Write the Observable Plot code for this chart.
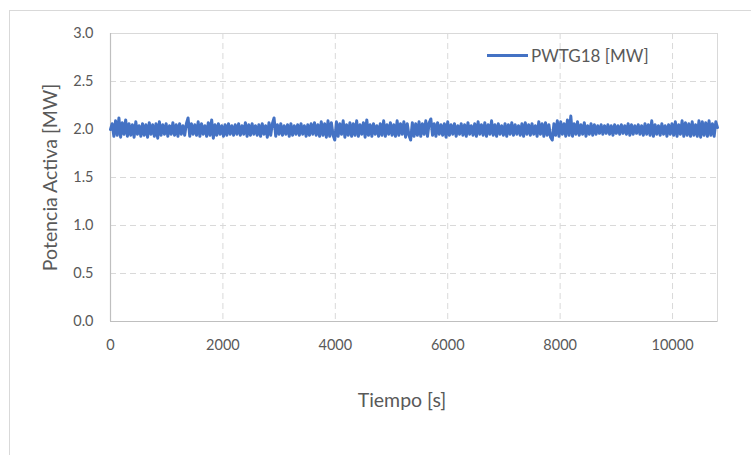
<!DOCTYPE html>
<html>
<head>
<meta charset="utf-8">
<script src="https://cdn.jsdelivr.net/npm/d3@7"></script>
<script src="https://cdn.jsdelivr.net/npm/@observablehq/plot@0.6"></script>
<style>
  html, body { margin: 0; padding: 0; background: #ffffff; }
  #wrap { position: relative; width: 751px; height: 455px; overflow: hidden; font-family: Lato, "Liberation Sans", sans-serif; }
  #border { position: absolute; left: 9px; top: 10px; width: 760px; height: 470px; border: 1px solid #d9d9d9; box-sizing: border-box; }
  #legend { position: absolute; left: 487px; top: 45px; display: flex; align-items: center; color: #595959; font-size: 17px; }
  #legend .swatch { width: 41px; height: 3px; background: #4472C4; margin-right: 3px; }
  #chart { position: absolute; left: 0; top: 0; }
</style>
</head>
<body>
<div id="wrap">
  <div id="border"></div>
  <div id="chart"></div>
  <div id="legend"><span class="swatch"></span><span id="legendLabel"></span></div>
</div>
<script>
// ---- data ----
const seriesName = "PWTG18 [MW]";
const xTitle = "Tiempo [s]";
const yTitle = "Potencia Activa [MW]";
const xTicks = [0, 2000, 4000, 6000, 8000, 10000];
const yTicks = [0, 0.5, 1.0, 1.5, 2.0, 2.5, 3.0];
const xMax = 10800;
const sampleStep = 30; // seconds between samples
const power = [
  2.00,2.06,1.93,2.09,1.94,2.12,1.92,2.07,1.95,2.10,1.93,2.06,1.94,2.05,1.92,2.08,1.95,2.04,1.93,2.06,1.94,2.05,1.92,2.07,
  1.95,2.05,1.93,2.06,1.91,2.08,1.94,2.05,1.95,2.06,1.93,2.04,1.95,2.07,1.94,2.05,1.93,2.06,1.95,2.04,1.94,2.06,2.12,1.93,
  2.06,1.95,2.05,1.94,2.08,1.93,2.06,1.95,2.04,1.93,2.07,1.94,2.10,1.91,2.05,1.94,2.06,1.95,2.04,1.93,2.05,1.94,2.06,1.95,
  2.04,1.94,2.05,1.95,2.06,1.94,2.04,1.95,2.07,1.93,2.05,1.94,2.06,1.95,2.04,1.94,2.05,1.93,2.06,1.95,2.04,1.92,2.07,1.94,
  2.06,2.12,1.93,2.05,1.95,2.06,1.94,2.04,1.95,2.05,1.93,2.06,1.94,2.04,1.95,2.05,1.94,2.06,1.95,2.04,1.93,2.05,1.94,2.06,
  1.95,2.07,1.94,2.05,1.93,2.08,1.94,2.06,1.92,2.09,1.93,2.07,1.94,1.89,2.08,1.93,2.06,1.95,2.09,1.92,2.05,1.94,2.07,1.93,
  2.06,1.94,2.09,1.93,2.05,1.95,2.07,1.92,2.10,1.94,2.05,1.93,2.06,1.95,2.04,1.93,2.06,1.94,2.09,1.93,2.05,1.95,2.07,1.94,
  2.05,1.93,2.09,1.94,2.06,1.95,2.08,1.92,2.06,1.94,1.89,2.07,1.93,2.06,1.94,2.08,1.93,2.06,1.95,2.09,1.93,2.07,2.11,1.94,
  2.06,1.93,2.07,1.95,2.05,1.94,2.06,1.92,2.08,1.94,2.05,1.95,2.06,1.93,2.04,1.95,2.06,1.94,2.05,1.93,2.07,1.95,2.04,1.94,
  2.06,1.93,2.08,1.95,2.05,1.94,2.07,1.93,2.05,1.95,2.09,1.94,2.05,1.93,2.06,1.95,2.04,1.94,2.06,1.93,2.05,1.95,2.07,1.94,
  2.05,1.95,2.04,1.94,2.06,1.93,2.07,1.95,2.05,1.94,2.06,1.95,2.04,1.93,2.08,1.95,2.06,1.93,2.07,1.94,2.05,1.92,1.89,2.06,
  1.94,2.09,1.93,2.08,1.95,2.06,1.93,2.10,1.94,2.14,1.93,2.06,1.95,2.08,1.94,2.05,1.95,2.07,1.93,2.04,1.95,2.06,1.94,2.05,
  1.95,2.04,1.96,2.05,1.95,2.04,1.96,2.05,1.95,2.04,1.94,2.05,1.96,2.04,1.95,2.05,1.96,2.04,1.95,2.06,1.94,2.05,1.95,2.04,
  1.96,2.05,1.95,2.04,1.94,2.06,1.95,2.05,1.94,2.09,1.93,2.05,1.95,2.04,1.94,2.06,1.95,2.04,1.93,2.05,1.95,2.06,1.94,2.08,
  1.93,2.05,1.95,2.09,1.93,2.07,1.94,2.06,1.93,2.08,1.94,2.05,1.93,2.09,1.92,2.08,1.94,2.07,1.93,2.09,1.94,2.06,1.93,2.08,
  2.02
];

// ---- build ----
const data = power.map((v, i) => ({t: i * sampleStep, v}));
document.getElementById("legendLabel").textContent = seriesName;

const gridStyle = {stroke: "#d9d9d9", strokeOpacity: 1, strokeWidth: 1, strokeDasharray: "6,4"};

const chart = Plot.plot({
  width: 751,
  height: 455,
  marginLeft: 110,
  marginRight: 34,
  marginTop: 33,
  marginBottom: 134,
  style: {fontFamily: "Lato, 'Liberation Sans', sans-serif", fontSize: "14px", color: "#595959", background: "transparent"},
  x: {domain: [0, xMax]},
  y: {domain: [0, 3]},
  marks: [
    Plot.gridX(xTicks.filter(d => d > 0), gridStyle),
    Plot.gridY(yTicks.filter(d => d > 0 && d < 3), gridStyle),
    Plot.frame({stroke: "#d9d9d9"}),
    Plot.ruleX([0], {stroke: "#bfbfbf", strokeWidth: 1.2}),
    Plot.ruleY([0], {stroke: "#bfbfbf", strokeWidth: 1.2}),
    Plot.axisX({ticks: xTicks, tickSize: 0, tickPadding: 18, tickFormat: d => String(d), label: null, fontSize: 14.5, fill: "#595959"}),
    Plot.axisY({ticks: yTicks, tickSize: 0, tickPadding: 17, tickFormat: d => d.toFixed(1), label: null, fontSize: 14.5, fill: "#595959"}),
    Plot.line(data, {x: "t", y: "v", stroke: "#4472C4", strokeWidth: 3}),
    Plot.text([yTitle], {frameAnchor: "left", textAnchor: "middle", rotate: -90, dx: -60, fontSize: 19.5, fill: "#595959"}),
    Plot.text([xTitle], {frameAnchor: "bottom", textAnchor: "middle", dx: -12, dy: 85, fontSize: 19.5, fill: "#595959"})
  ]
});
document.getElementById("chart").appendChild(chart);
</script>
</body>
</html>
